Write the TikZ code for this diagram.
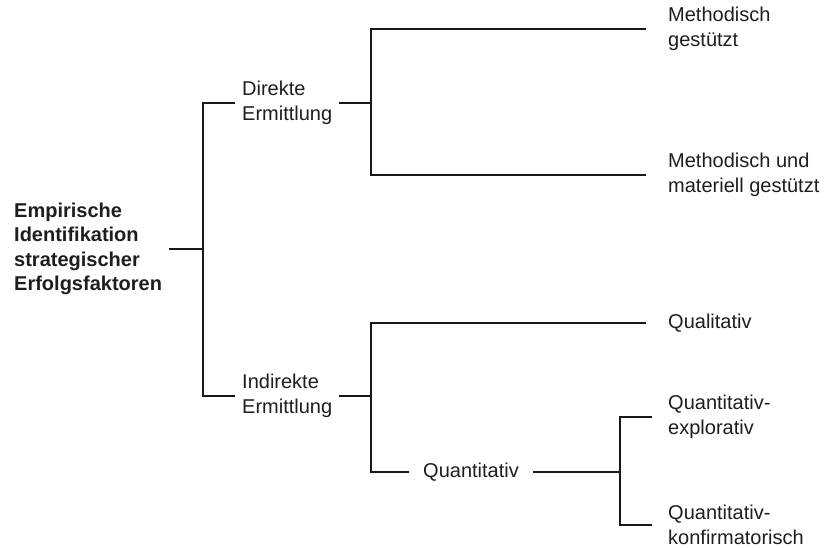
\documentclass[tikz,border=0pt]{standalone}
\usepackage{fontspec}
\setmainfont{Liberation Sans}
\usepackage{tikz}
\definecolor{dline}{RGB}{24, 24, 24}
\definecolor{dtext}{RGB}{30, 30, 30}
\tikzset{
  txt/.style = {text = dtext, align = left, anchor = west, inner ysep = 0pt,
                font = \fontsize{20}{24.5}\selectfont},
  branch/.style = {txt, inner xsep = 7pt},
  leaf/.style = {txt, inner xsep = 22pt},
  rootbox/.style = {branch, font = \fontsize{20}{24.5}\selectfont\bfseries},
  conn/.style = {draw = dline, line width = 2.7pt}
}

\begin{document}
\begin{tikzpicture}[x = 1pt, y = -1pt]
  \useasboundingbox (0, 0) rectangle (824, 548);
  \node[rootbox] (root) at (7, 249){Empirische\\Identifikation\\strategischer\\Erfolgsfaktoren};
  \node[branch] (direkt) at (235, 103){Direkte\\Ermittlung};
  \node[branch] (indirekt) at (235, 396){Indirekte\\Ermittlung};
  \node[leaf] (meth) at (646, 29){Methodisch\\gestützt};
  \node[leaf] (methmat) at (646, 175){Methodisch und\\materiell gestützt};
  \node[leaf] (quali) at (646, 323){Qualitativ};
  \node[txt, inner xsep = 14pt] (quanti) at (409, 472){Quantitativ};
  \node[txt, inner xsep = 16pt] (qexpl) at (652, 417){Quantitativ-\\explorativ};
  \node[txt, inner xsep = 16pt] (qkonf) at (652, 525){Quantitativ-\\konfirmatorisch};
  \coordinate (j1) at (203, 249);
  \coordinate (j2) at (371, 103);
  \coordinate (j3) at (371, 396);
  \coordinate (j4) at (620, 472);
  \draw[conn] (root.east) -- (j1);
  \draw[conn] (j1) |- (direkt.west);
  \draw[conn] (j1) |- (indirekt.west);
  \draw[conn] (direkt.east) -- (j2);
  \draw[conn] (j2) |- (meth.west);
  \draw[conn] (j2) |- (methmat.west);
  \draw[conn] (indirekt.east) -- (j3);
  \draw[conn] (j3) |- (quali.west);
  \draw[conn] (j3) |- (quanti.west);
  \draw[conn] (quanti.east) -- (j4);
  \draw[conn] (j4) |- (qexpl.west);
  \draw[conn] (j4) |- (qkonf.west);
\end{tikzpicture}
\end{document}
